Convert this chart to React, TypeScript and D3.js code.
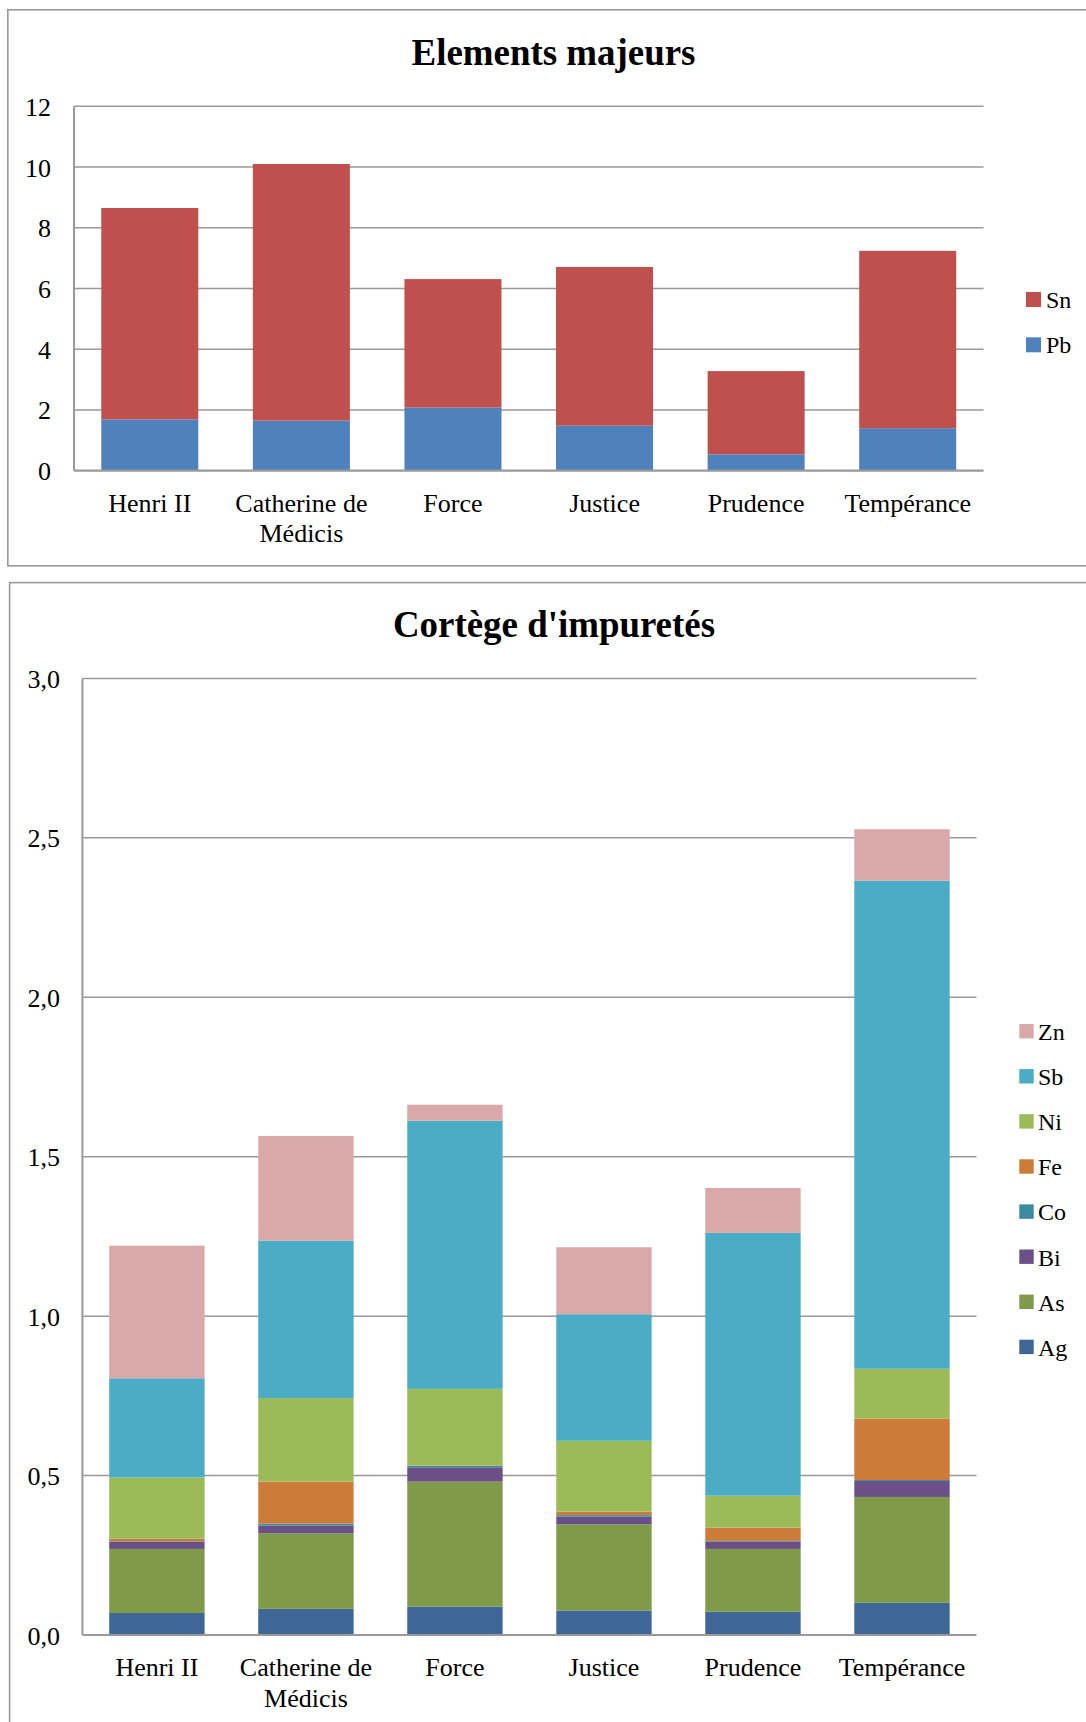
import React, { useEffect } from 'react';
import * as d3 from 'd3';

// ---------- Data ----------
const categories = ['Henri II', 'Catherine de Médicis', 'Force', 'Justice', 'Prudence', 'Tempérance'];

// Chart 1: Elements majeurs (stack order bottom -> top)
const pbValues = [1.69, 1.65, 2.08, 1.48, 0.54, 1.40];
const snValues = [6.96, 8.45, 4.23, 5.23, 2.74, 5.84];
const majorTicks = [0, 2, 4, 6, 8, 10, 12];

// Chart 2: Cortège d'impuretés (stack order bottom -> top)
const agValues = [0.069, 0.082, 0.089, 0.077, 0.073, 0.101];
const asValues = [0.201, 0.237, 0.392, 0.270, 0.197, 0.332];
const biValues = [0.022, 0.024, 0.045, 0.024, 0.023, 0.050];
const coValues = [0.002, 0.006, 0.004, 0.005, 0.002, 0.003];
const feValues = [0.008, 0.132, 0.001, 0.011, 0.042, 0.193];
const niValues = [0.192, 0.262, 0.241, 0.222, 0.100, 0.156];
const sbValues = [0.311, 0.494, 0.841, 0.397, 0.824, 1.531];
const znValues = [0.416, 0.328, 0.050, 0.210, 0.141, 0.161];
const impurityTicks = [0, 0.5, 1.0, 1.5, 2.0, 2.5, 3.0];

type Series = { key: string; values: number[]; color: string };

const majorSeries: Series[] = [
  { key: 'Pb', values: pbValues, color: '#4F81BD' },
  { key: 'Sn', values: snValues, color: '#C0504D' },
];

const impuritySeries: Series[] = [
  { key: 'Ag', values: agValues, color: '#3E6797' },
  { key: 'As', values: asValues, color: '#7F9A48' },
  { key: 'Bi', values: biValues, color: '#6A5087' },
  { key: 'Co', values: coValues, color: '#3A8BA1' },
  { key: 'Fe', values: feValues, color: '#CC7B38' },
  { key: 'Ni', values: niValues, color: '#9BBB59' },
  { key: 'Sb', values: sbValues, color: '#4BACC6' },
  { key: 'Zn', values: znValues, color: '#D9A9A9' },
];

const FONT = '"Liberation Serif", "Times New Roman", serif';
const GRID = '#999999';

function wrapLabel(label: string, maxChars: number): string[] {
  const words = label.split(' ');
  const lines: string[] = [];
  let cur = '';
  words.forEach((w) => {
    const next = cur ? cur + ' ' + w : w;
    if (next.length > maxChars && cur) {
      lines.push(cur);
      cur = w;
    } else cur = next;
  });
  if (cur) lines.push(cur);
  return lines;
}

type ChartProps = {
  frame: { x: number; y: number; w: number; h: number };
  title: string;
  titleX: number;
  titleY: number;
  plot: { left: number; right: number; top: number; bottom: number };
  domainMax: number;
  ticks: number[];
  tickFmt: (v: number) => string;
  tickRight: number;
  series: Series[];
  padding: number;
  labelY: number;
  labelLine: number;
  legend: { x: number; y: number; step: number; size: number; textX: number; baselineOff: number };
};

function StackedChart(p: ChartProps) {
  const x = d3
    .scaleBand<string>()
    .domain(categories)
    .range([p.plot.left, p.plot.right])
    .paddingInner(p.padding)
    .paddingOuter(p.padding / 2);
  const y = d3.scaleLinear().domain([0, p.domainMax]).range([p.plot.bottom, p.plot.top]);

  const rows = categories.map((c, i) => {
    const r: any = { cat: c };
    p.series.forEach((s) => (r[s.key] = s.values[i]));
    return r;
  });
  const stacked = d3.stack<any>().keys(p.series.map((s) => s.key))(rows);
  const legendItems = [...p.series].reverse();

  return (
    <g>
      <rect x={p.frame.x} y={p.frame.y} width={p.frame.w} height={p.frame.h} fill="#fff" stroke={GRID} strokeWidth={1.6} />
      <text x={p.titleX} y={p.titleY} textAnchor="middle" fontFamily={FONT} fontWeight="bold" fontSize={36.9} fill="#000">
        {p.title}
      </text>
      {p.ticks.map((t) => (
        <g key={'t' + t}>
          {t > 0 && <line x1={p.plot.left} x2={p.plot.right} y1={y(t)} y2={y(t)} stroke={GRID} strokeWidth={1.5} />}
          <text x={p.tickRight} y={y(t) + 9.5} textAnchor="end" fontFamily={FONT} fontSize={26} fill="#000">
            {p.tickFmt(t)}
          </text>
        </g>
      ))}
      {stacked.map((layer, li) => (
        <g key={layer.key} fill={p.series[li].color}>
          {layer.map((d, i) => (
            <rect
              key={i}
              x={x(categories[i])}
              width={x.bandwidth()}
              y={y(d[1])}
              height={Math.max(0, y(d[0]) - y(d[1]))}
            />
          ))}
        </g>
      ))}
      <line x1={p.plot.left} x2={p.plot.left} y1={p.plot.top} y2={p.plot.bottom} stroke={GRID} strokeWidth={2} />
      <line x1={p.plot.left} x2={p.plot.right} y1={p.plot.bottom} y2={p.plot.bottom} stroke={GRID} strokeWidth={2.2} />
      {categories.map((c) => {
        const lines = wrapLabel(c, 13);
        const cx = (x(c) as number) + x.bandwidth() / 2;
        return (
          <text key={c} textAnchor="middle" fontFamily={FONT} fontSize={26} fill="#000">
            {lines.map((ln, k) => (
              <tspan key={k} x={cx} y={p.labelY + k * p.labelLine}>
                {ln}
              </tspan>
            ))}
          </text>
        );
      })}
      {legendItems.map((s, i) => (
        <g key={s.key}>
          <rect x={p.legend.x} y={p.legend.y + i * p.legend.step} width={p.legend.size} height={p.legend.size} fill={s.color} />
          <text
            x={p.legend.textX}
            y={p.legend.y + i * p.legend.step + p.legend.baselineOff}
            fontFamily={FONT}
            fontSize={24}
            fill="#000"
          >
            {s.key}
          </text>
        </g>
      ))}
    </g>
  );
}

export default function App() {
  useEffect(() => {
    document.body.style.margin = '0';
  }, []);
  return (
    <div style={{ position: 'absolute', left: 0, top: 0 }}>
      <svg width={1086} height={1722} style={{ display: 'block', background: '#fff' }}>
        <rect x={0} y={0} width={1086} height={1722} fill="#fff" />
        <StackedChart
          frame={{ x: 7.8, y: 9.8, w: 1100, h: 556 }}
          title="Elements majeurs"
          titleX={553.5}
          titleY={64.5}
          plot={{ left: 74, right: 983.5, top: 106.3, bottom: 470.7 }}
          domainMax={12}
          ticks={majorTicks}
          tickFmt={(v) => d3.format('d')(v)}
          tickRight={51}
          series={majorSeries}
          padding={0.36}
          labelY={511.7}
          labelLine={30}
          legend={{ x: 1026, y: 292, step: 45.3, size: 15, textX: 1046, baselineOff: 15.5 }}
        />
        <StackedChart
          frame={{ x: 9.6, y: 582.6, w: 1100, h: 1200 }}
          title="Cortège d'impuretés"
          titleX={554}
          titleY={636.6}
          plot={{ left: 82.4, right: 976.5, top: 678.4, bottom: 1635 }}
          domainMax={3}
          ticks={impurityTicks}
          tickFmt={(v) => d3.format('.1f')(v).replace('.', ',')}
          tickRight={60}
          series={impuritySeries}
          padding={0.36}
          labelY={1676}
          labelLine={30.7}
          legend={{ x: 1019.3, y: 1024, step: 45.1, size: 14.4, textX: 1038, baselineOff: 16 }}
        />
      </svg>
    </div>
  );
}
